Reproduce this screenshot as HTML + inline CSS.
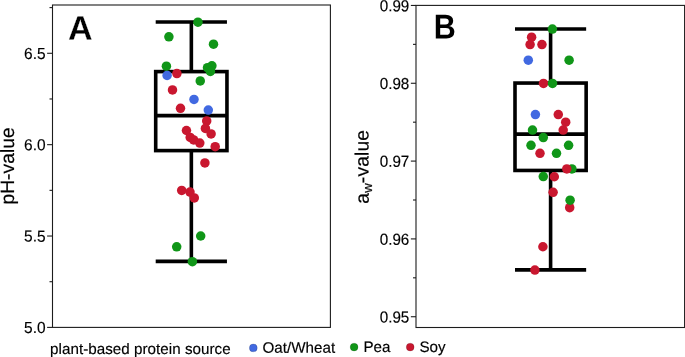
<!DOCTYPE html>
<html><head><meta charset="utf-8"><title>Box plots</title>
<style>
html,body{margin:0;padding:0;background:#fff;}
body{width:685px;height:357px;overflow:hidden;}
svg{display:block;filter:opacity(1);}
text{font-family:"Liberation Sans",sans-serif;fill:#000;text-rendering:geometricPrecision;}
</style></head><body>
<svg width="685" height="357" viewBox="0 0 685 357">
<rect width="685" height="357" fill="#fff"/>
<g fill="none" stroke="#1c1c1c" stroke-width="1.1">
<rect x="52.5" y="5.0" width="277.9" height="322.4"/>
<rect x="416.0" y="5.4" width="268.6" height="322.1"/>
<line x1="47.10" y1="327.40" x2="52.5" y2="327.40"/>
<line x1="49.50" y1="281.71" x2="52.5" y2="281.71"/>
<line x1="47.10" y1="236.03" x2="52.5" y2="236.03"/>
<line x1="49.50" y1="190.34" x2="52.5" y2="190.34"/>
<line x1="47.10" y1="144.66" x2="52.5" y2="144.66"/>
<line x1="49.50" y1="98.97" x2="52.5" y2="98.97"/>
<line x1="47.10" y1="53.29" x2="52.5" y2="53.29"/>
<line x1="49.50" y1="7.60" x2="52.5" y2="7.60"/>
<line x1="410.85" y1="5.45" x2="416.0" y2="5.45"/>
<line x1="413.00" y1="44.36" x2="416.0" y2="44.36"/>
<line x1="410.85" y1="83.27" x2="416.0" y2="83.27"/>
<line x1="413.00" y1="122.18" x2="416.0" y2="122.18"/>
<line x1="410.85" y1="161.09" x2="416.0" y2="161.09"/>
<line x1="413.00" y1="200.00" x2="416.0" y2="200.00"/>
<line x1="410.85" y1="238.91" x2="416.0" y2="238.91"/>
<line x1="413.00" y1="277.82" x2="416.0" y2="277.82"/>
<line x1="410.85" y1="316.73" x2="416.0" y2="316.73"/>
</g>
<g font-size="15.9" stroke="#000" stroke-width="0.15">
<text transform="translate(45.55,333.00) matrix(0.975 0.0005 0 1 0 0)" text-anchor="end">5.0</text>
<text transform="translate(45.55,241.63) matrix(0.975 0.0005 0 1 0 0)" text-anchor="end">5.5</text>
<text transform="translate(45.55,150.26) matrix(0.975 0.0005 0 1 0 0)" text-anchor="end">6.0</text>
<text transform="translate(45.55,58.89) matrix(0.975 0.0005 0 1 0 0)" text-anchor="end">6.5</text>
<text transform="translate(409.30,11.20) matrix(0.957 0.0005 0 1 0 0)" text-anchor="end">0.99</text>
<text transform="translate(409.30,89.02) matrix(0.957 0.0005 0 1 0 0)" text-anchor="end">0.98</text>
<text transform="translate(409.30,166.84) matrix(0.957 0.0005 0 1 0 0)" text-anchor="end">0.97</text>
<text transform="translate(409.30,244.66) matrix(0.957 0.0005 0 1 0 0)" text-anchor="end">0.96</text>
<text transform="translate(409.30,322.48) matrix(0.957 0.0005 0 1 0 0)" text-anchor="end">0.95</text>
</g>
<g stroke="#000" stroke-width="3.6" fill="none" stroke-linecap="butt">
<line x1="155.7" y1="22.0" x2="226.95" y2="22.0"/>
<line x1="155.7" y1="261.35" x2="226.95" y2="261.35"/>
<line x1="191.35" y1="22.0" x2="191.35" y2="71.6"/>
<line x1="191.35" y1="150.6" x2="191.35" y2="261.35"/>
<rect x="155.7" y="71.6" width="71.25" height="79.00"/>
<line x1="155.7" y1="115.6" x2="226.95" y2="115.6"/>
</g>
<g stroke="#000" stroke-width="3.6" fill="none" stroke-linecap="butt">
<line x1="515.0" y1="29.05" x2="586.15" y2="29.05"/>
<line x1="515.0" y1="269.9" x2="586.15" y2="269.9"/>
<line x1="550.6" y1="29.05" x2="550.6" y2="83.05"/>
<line x1="550.6" y1="170.45" x2="550.6" y2="269.9"/>
<rect x="515.0" y="83.05" width="71.15" height="87.40"/>
<line x1="515.0" y1="134.15" x2="586.15" y2="134.15"/>
</g>
<circle cx="197.95" cy="22.15" r="4.75" fill="#109618"/>
<circle cx="168.9" cy="36.85" r="4.75" fill="#109618"/>
<circle cx="213.5" cy="44.15" r="4.75" fill="#109618"/>
<circle cx="166.4" cy="66.20" r="4.75" fill="#109618"/>
<circle cx="211.9" cy="65.80" r="4.75" fill="#109618"/>
<circle cx="207.5" cy="67.70" r="4.75" fill="#109618"/>
<circle cx="210.4" cy="71.50" r="4.75" fill="#109618"/>
<circle cx="167.1" cy="75.40" r="4.75" fill="#4169E1"/>
<circle cx="176.9" cy="73.60" r="4.75" fill="#C9172F"/>
<circle cx="200.25" cy="80.90" r="4.75" fill="#109618"/>
<circle cx="172.5" cy="89.90" r="4.75" fill="#C9172F"/>
<circle cx="194.0" cy="99.40" r="4.75" fill="#4169E1"/>
<circle cx="180.5" cy="108.30" r="4.75" fill="#C9172F"/>
<circle cx="208.3" cy="110.10" r="4.75" fill="#4169E1"/>
<circle cx="206.7" cy="120.95" r="4.75" fill="#C9172F"/>
<circle cx="205.4" cy="128.40" r="4.75" fill="#C9172F"/>
<circle cx="186.45" cy="130.50" r="4.75" fill="#C9172F"/>
<circle cx="211.1" cy="133.95" r="4.75" fill="#C9172F"/>
<circle cx="190.2" cy="137.40" r="4.75" fill="#C9172F"/>
<circle cx="193.7" cy="139.90" r="4.75" fill="#C9172F"/>
<circle cx="199.8" cy="143.10" r="4.75" fill="#C9172F"/>
<circle cx="215.2" cy="146.65" r="4.75" fill="#C9172F"/>
<circle cx="204.9" cy="162.95" r="4.75" fill="#C9172F"/>
<circle cx="181.7" cy="190.40" r="4.75" fill="#C9172F"/>
<circle cx="190.0" cy="192.10" r="4.75" fill="#C9172F"/>
<circle cx="194.3" cy="197.90" r="4.75" fill="#C9172F"/>
<circle cx="200.7" cy="236.00" r="4.75" fill="#109618"/>
<circle cx="176.7" cy="246.80" r="4.75" fill="#109618"/>
<circle cx="192.4" cy="261.70" r="4.75" fill="#109618"/>
<circle cx="552.4" cy="29.05" r="4.75" fill="#109618"/>
<circle cx="531.6" cy="37.15" r="4.75" fill="#C9172F"/>
<circle cx="530.1" cy="44.55" r="4.75" fill="#C9172F"/>
<circle cx="541.95" cy="44.55" r="4.75" fill="#C9172F"/>
<circle cx="528.3" cy="60.15" r="4.75" fill="#4169E1"/>
<circle cx="569.1" cy="60.15" r="4.75" fill="#109618"/>
<circle cx="543.5" cy="83.45" r="4.75" fill="#C9172F"/>
<circle cx="552.5" cy="83.45" r="4.75" fill="#109618"/>
<circle cx="535.4" cy="114.55" r="4.75" fill="#4169E1"/>
<circle cx="558.3" cy="114.55" r="4.75" fill="#C9172F"/>
<circle cx="565.7" cy="122.15" r="4.75" fill="#C9172F"/>
<circle cx="563.2" cy="130.05" r="4.75" fill="#C9172F"/>
<circle cx="532.5" cy="130.05" r="4.75" fill="#109618"/>
<circle cx="543.3" cy="137.55" r="4.75" fill="#109618"/>
<circle cx="531.0" cy="145.35" r="4.75" fill="#109618"/>
<circle cx="568.6" cy="145.35" r="4.75" fill="#109618"/>
<circle cx="540.0" cy="153.35" r="4.75" fill="#C9172F"/>
<circle cx="556.5" cy="153.35" r="4.75" fill="#109618"/>
<circle cx="571.9" cy="168.95" r="4.75" fill="#109618"/>
<circle cx="566.8" cy="168.95" r="4.75" fill="#C9172F"/>
<circle cx="543.3" cy="176.55" r="4.75" fill="#109618"/>
<circle cx="554.3" cy="176.75" r="4.75" fill="#C9172F"/>
<circle cx="553.1" cy="192.35" r="4.75" fill="#C9172F"/>
<circle cx="569.7" cy="207.65" r="4.75" fill="#C9172F"/>
<circle cx="570.1" cy="200.15" r="4.75" fill="#109618"/>
<circle cx="542.9" cy="246.75" r="4.75" fill="#C9172F"/>
<circle cx="534.9" cy="270.05" r="4.75" fill="#C9172F"/>
<text transform="translate(68.09,39.68) matrix(0.995 0.0005 0 1 0 0)" font-size="34.3" font-weight="bold" stroke="#fff" stroke-width="0.25">A</text>
<text transform="translate(433.84,38.6) matrix(0.8875 0.0005 0 1 0 0)" font-size="34.36" font-weight="bold">B</text>
<text transform="translate(13.95,165.9) rotate(-90.04)" text-anchor="middle" font-size="19.2" letter-spacing="0.06" stroke="#000" stroke-width="0.2">pH-value</text>
<text transform="translate(368.6,166.8) rotate(-90.04)" text-anchor="middle" font-size="19.2" letter-spacing="0.15" stroke="#000" stroke-width="0.2">a<tspan font-size="13.2" dy="3.5">w</tspan><tspan dy="-3.5">-value</tspan></text>
<g font-size="15.2" stroke="#000" stroke-width="0.15">
<text transform="translate(50.1,353.65) matrix(1 0.0003 0 1 0 0)" letter-spacing="0.03">plant-based protein source</text>
<circle cx="253.3" cy="347.9" r="3.95" fill="#4169E1"/>
<text transform="translate(262.4,352.8) matrix(1 0.0005 0 1 0 0)" letter-spacing="0.03">Oat/Wheat</text>
<circle cx="354.1" cy="347.1" r="3.95" fill="#109618"/>
<text transform="translate(363.4,352.1) matrix(1 0.0005 0 1 0 0)">Pea</text>
<circle cx="410.2" cy="347.1" r="3.95" fill="#C9172F"/>
<text transform="translate(419.4,352.1) matrix(1 0.0005 0 1 0 0)">Soy</text>
</g>
</svg>
</body></html>
